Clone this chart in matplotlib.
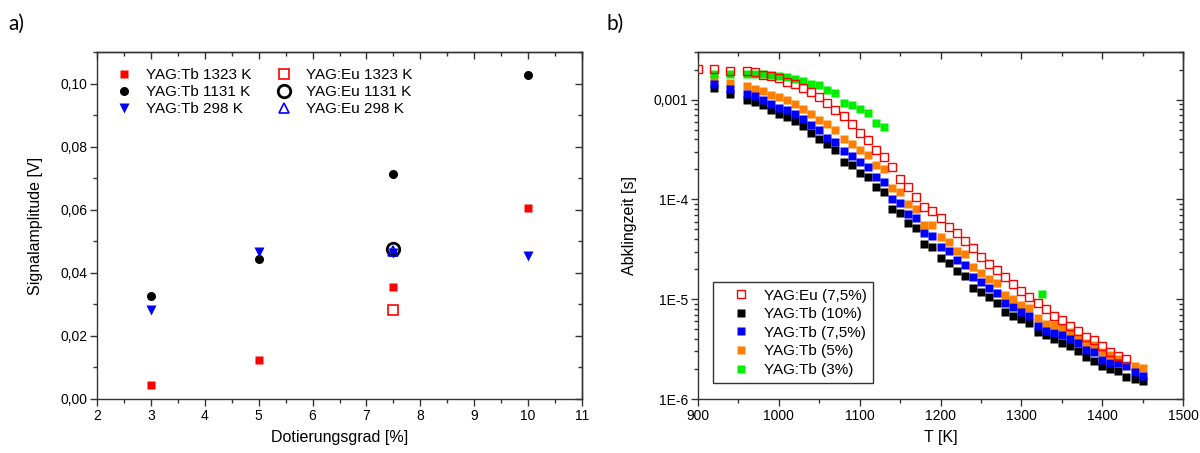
import numpy as np
import matplotlib
matplotlib.use('Agg')
import matplotlib.pyplot as plt
from matplotlib.ticker import MultipleLocator, FixedLocator, LogLocator, FuncFormatter, NullFormatter

plt.rcParams['font.family'] = ['Liberation Sans', 'DejaVu Sans']

# ---- data, panel a) ----
dotierung = [3, 5, 7.5, 10]
tb_1323 = [0.0043, 0.0125, 0.0354, 0.0604]
tb_1131 = [0.0325, 0.0444, 0.0713, 0.1028]
tb_298 = [0.0282, 0.0467, 0.0462, 0.0453]
eu_dotierung = [7.5]
eu_1323 = [0.0282]
eu_1131 = [0.0475]
eu_298 = [0.0470]

# ---- data, panel b) ----
T_tb = [920, 940, 960, 970, 980, 990, 1000, 1010, 1020, 1030, 1040, 1050, 1060,
        1070, 1080, 1090, 1100, 1110, 1120, 1130, 1140, 1150, 1160, 1170, 1180,
        1190, 1200, 1210, 1220, 1230, 1240, 1250, 1260, 1270, 1280, 1290, 1300,
        1310, 1320, 1330, 1340, 1350, 1360, 1370, 1380, 1390, 1400, 1410, 1420,
        1430, 1440, 1450]
T_eu = [900, 920, 940, 960, 970, 980, 990, 1000, 1010, 1020, 1030, 1040, 1050,
        1060, 1070, 1080, 1090, 1100, 1110, 1120, 1130, 1140, 1150, 1160, 1170,
        1180, 1190, 1200, 1210, 1220, 1230, 1240, 1250, 1260, 1270, 1280, 1290,
        1300, 1310, 1320, 1330, 1340, 1350, 1360, 1370, 1380, 1390, 1400, 1410,
        1420, 1430]
T_tb3 = [920, 940, 960, 970, 980, 990, 1000, 1010, 1020, 1030, 1040, 1050, 1060,
         1070, 1080, 1090, 1100, 1110, 1120, 1130, 1325]

tau_eu = [2.04e-3, 2.04e-3, 1.93e-3, 1.93e-3, 1.89e-3, 1.78e-3, 1.71e-3, 1.66e-3,
          1.50e-3, 1.45e-3, 1.32e-3, 1.19e-3, 1.06e-3, 9.3e-4, 7.94e-4, 6.86e-4,
          5.66e-4, 4.63e-4, 3.98e-4, 3.16e-4, 2.69e-4, 2.12e-4, 1.62e-4, 1.34e-4,
          1.06e-4, 8.4e-5, 7.6e-5, 6.45e-5, 5.3e-5, 4.57e-5, 3.85e-5, 3.23e-5,
          2.67e-5, 2.24e-5, 1.96e-5, 1.68e-5, 1.41e-5, 1.22e-5, 1.06e-5, 9.1e-6,
          7.9e-6, 6.86e-6, 6.2e-6, 5.4e-6, 4.85e-6, 4.17e-6, 3.86e-6, 3.41e-6,
          2.99e-6, 2.71e-6, 2.51e-6]
tau_tb10 = [1.32e-3, 1.14e-3, 1.00e-3, 9.47e-4, 8.77e-4, 7.94e-4, 7.24e-4, 6.70e-4,
            6.10e-4, 5.40e-4, 4.63e-4, 4.07e-4, 3.57e-4, 3.16e-4, 2.38e-4, 2.20e-4,
            1.85e-4, 1.68e-4, 1.32e-4, 1.19e-4, 7.94e-5, 7.24e-5, 5.75e-5, 5.13e-5,
            3.57e-5, 3.31e-5, 2.57e-5, 2.29e-5, 1.93e-5, 1.71e-5, 1.31e-5, 1.17e-5,
            1.06e-5, 9.25e-6, 7.5e-6, 6.8e-6, 6.3e-6, 5.75e-6, 4.74e-6, 4.36e-6,
            3.98e-6, 3.68e-6, 3.41e-6, 3.04e-6, 2.63e-6, 2.43e-6, 2.12e-6, 2.01e-6,
            1.89e-6, 1.68e-6, 1.58e-6, 1.50e-6]
tau_tb75 = [1.44e-3, 1.27e-3, 1.15e-3, 1.09e-3, 1.00e-3, 9.1e-4, 8.3e-4, 7.8e-4,
            7.1e-4, 6.35e-4, 5.53e-4, 4.93e-4, 4.17e-4, 3.77e-4, 3.06e-4, 2.71e-4,
            2.38e-4, 2.12e-4, 1.68e-4, 1.48e-4, 1.02e-4, 9.25e-5, 7.2e-5, 6.5e-5,
            4.6e-5, 4.3e-5, 3.36e-5, 3.04e-5, 2.47e-5, 2.2e-5, 1.66e-5, 1.5e-5,
            1.29e-5, 1.16e-5, 9.25e-6, 8.3e-6, 7.4e-6, 6.8e-6, 5.4e-6, 4.82e-6,
            4.63e-6, 4.4e-6, 3.98e-6, 3.68e-6, 3.11e-6, 2.95e-6, 2.47e-6, 2.32e-6,
            2.29e-6, 2.15e-6, 1.85e-6, 1.71e-6]
tau_tb5 = [1.66e-3, 1.48e-3, 1.36e-3, 1.29e-3, 1.21e-3, 1.12e-3, 1.06e-3, 9.84e-4,
           9.1e-4, 8.1e-4, 7.24e-4, 6.3e-4, 5.66e-4, 4.93e-4, 4.07e-4, 3.57e-4,
           3.16e-4, 2.77e-4, 2.2e-4, 2.0e-4, 1.3e-4, 1.19e-4, 9.0e-5, 8.1e-5,
           5.6e-5, 5.5e-5, 4.17e-5, 3.77e-5, 3.04e-5, 2.84e-5, 2.09e-5, 1.82e-5,
           1.58e-5, 1.45e-5, 1.1e-5, 1.0e-5, 8.77e-6, 8.1e-6, 6.45e-6, 5.66e-6,
           5.53e-6, 5.13e-6, 4.74e-6, 4.07e-6, 3.68e-6, 3.49e-6, 2.99e-6, 2.77e-6,
           2.51e-6, 2.2e-6, 2.15e-6, 2.04e-6]
tau_tb3 = [1.82e-3, 1.82e-3, 1.81e-3, 1.81e-3, 1.79e-3, 1.76e-3, 1.74e-3, 1.68e-3,
           1.61e-3, 1.54e-3, 1.45e-3, 1.39e-3, 1.26e-3, 1.17e-3, 9.25e-4, 8.77e-4,
           8.06e-4, 7.35e-4, 5.84e-4, 5.33e-4, 1.13e-5]

fig = plt.figure(figsize=(12, 4.53), dpi=100)
ax1 = fig.add_axes([97/1200, 54/453, 485/1200, 347/453])
ax2 = fig.add_axes([698/1200, 54/453, 485/1200, 347/453])

def style_axes(ax, xmaj, xmin, ymaj, ymin):
    # Origin style: ticks out on bottom/left, mirrored ticks in on top/right
    for s in ax.spines.values():
        s.set_linewidth(1.0)
        s.set_color('#333333')
    ax.tick_params(which='both', direction='out', labelsize=10,
                   color='#333333', width=1.0, pad=2)
    ax.tick_params(which='major', length=5)
    ax.tick_params(which='minor', length=3)
    top = ax.secondary_xaxis('top')
    right = ax.secondary_yaxis('right')
    top.xaxis.set_major_locator(xmaj)
    top.xaxis.set_minor_locator(xmin)
    right.yaxis.set_major_locator(ymaj)
    right.yaxis.set_minor_locator(ymin)
    for sec in (top, right):
        sec.tick_params(which='both', direction='in', labeltop=False,
                        labelright=False, color='#333333', width=1.0)
        sec.tick_params(which='major', length=5)
        sec.tick_params(which='minor', length=3)
        for s in sec.spines.values():
            s.set_linewidth(1.0)
            s.set_color('#333333')

# ---- panel a) ----
ax1.plot(dotierung, tb_1323, 's', color='red', ms=6, mec='none', label='YAG:Tb 1323 K')
ax1.plot(dotierung, tb_1131, 'o', color='black', ms=6.5, mec='none', label='YAG:Tb 1131 K')
ax1.plot(dotierung, tb_298, 'v', color='blue', ms=7, mec='none', label='YAG:Tb 298 K')
ax1.plot(eu_dotierung, eu_1323, 's', mfc='none', mec='red', ms=6.5, mew=1.2, label='YAG:Eu 1323 K')
ax1.plot(eu_dotierung, eu_1131, 'o', mfc='none', mec='black', ms=9, mew=2, label='YAG:Eu 1131 K')
ax1.plot(eu_dotierung, eu_298, '^', mfc='none', mec='blue', ms=7.5, mew=1.2, label='YAG:Eu 298 K')
ax1.set_xlim(2, 11)
ax1.set_ylim(0, 0.11)
ax1.xaxis.set_major_locator(MultipleLocator(1))
ax1.xaxis.set_minor_locator(MultipleLocator(0.5))
ax1.yaxis.set_major_locator(MultipleLocator(0.02))
ax1.yaxis.set_minor_locator(MultipleLocator(0.01))
ax1.yaxis.set_major_formatter(FuncFormatter(lambda v, p: ('%.2f' % v).replace('.', ',')))
style_axes(ax1, MultipleLocator(1), MultipleLocator(0.5),
           MultipleLocator(0.02), MultipleLocator(0.01))
ax1.set_xlabel('Dotierungsgrad [%]', fontsize=11.5, labelpad=5)
ax1.set_ylabel('Signalamplitude [V]', fontsize=11.5, labelpad=12)
ax1.legend(ncol=2, loc='upper left', frameon=False, fontsize=11,
           bbox_to_anchor=(0.025, 0.971), borderaxespad=0, borderpad=0.4,
           labelspacing=0.2, handletextpad=0.84, columnspacing=1.5, handlelength=1.2)

# ---- panel b) ----
ax2.plot(T_eu, tau_eu, 's', mfc='none', mec='red', ms=6, mew=1.0, label='YAG:Eu (7,5%)', zorder=6)
ax2.plot(T_tb, tau_tb10, 's', color='black', ms=6, mec='none', label='YAG:Tb (10%)', zorder=3)
ax2.plot(T_tb, tau_tb75, 's', color='blue', ms=6, mec='none', label='YAG:Tb (7,5%)', zorder=4)
ax2.plot(T_tb, tau_tb5, 's', color='#ff8000', ms=6, mec='none', label='YAG:Tb (5%)', zorder=3.5)
ax2.plot(T_tb3, tau_tb3, 's', color='#00ee00', ms=6, mec='none', label='YAG:Tb (3%)', zorder=5)
ax2.set_yscale('log')
ax2.set_xlim(900, 1500)
ax2.set_ylim(1e-6, 3e-3)
ax2.xaxis.set_major_locator(MultipleLocator(100))
ax2.xaxis.set_minor_locator(MultipleLocator(50))
ax2.yaxis.set_major_locator(FixedLocator([1e-6, 1e-5, 1e-4, 1e-3]))
ax2.yaxis.set_minor_locator(LogLocator(base=10, subs=np.arange(2, 10)))
ax2.yaxis.set_minor_formatter(NullFormatter())
ylabels = {1e-6: '1E-6', 1e-5: '1E-5', 1e-4: '1E-4', 1e-3: '0,001'}
ax2.yaxis.set_major_formatter(FuncFormatter(
    lambda v, p: min(ylabels.items(), key=lambda kv: abs(np.log10(kv[0]) - np.log10(v)))[1]))
style_axes(ax2, MultipleLocator(100), MultipleLocator(50),
           FixedLocator([1e-6, 1e-5, 1e-4, 1e-3]), LogLocator(base=10, subs=np.arange(2, 10)))
ax2.set_xlabel('T [K]', fontsize=11.5, labelpad=5)
ax2.set_ylabel('Abklingzeit [s]', fontsize=11.5, labelpad=12)
leg = ax2.legend(loc='lower left', fontsize=11, bbox_to_anchor=(0.031, 0.046),
                 borderaxespad=0, labelspacing=0.3, handletextpad=0.05, handlelength=2.9,
                 fancybox=False, framealpha=1, edgecolor='#333333', borderpad=0.4)
leg.get_frame().set_linewidth(1.0)

fig.text(8/1200, 1 - 24/453, 'a)', fontsize=15, family='Lato', va='center')
fig.text(606/1200, 1 - 24/453, 'b)', fontsize=15, family='Lato', va='center')

fig.savefig('out.png', dpi=100)
